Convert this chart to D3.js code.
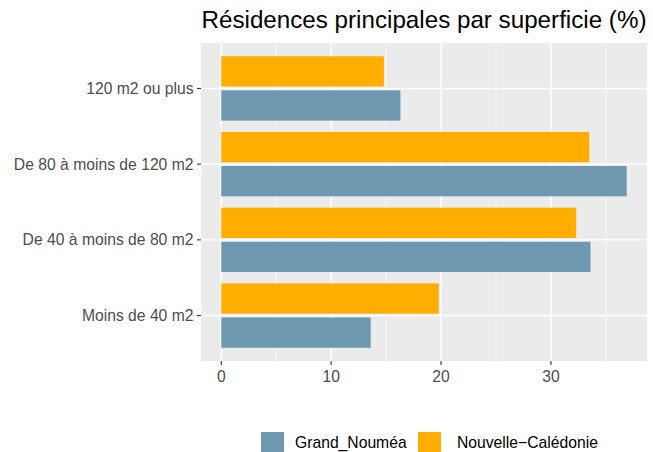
<!DOCTYPE html>
<html><head><meta charset="utf-8">
<script src="https://cdn.jsdelivr.net/npm/d3@7"></script>
<style>body{margin:0;background:#fff}text{font-family:"Liberation Sans",Arial,sans-serif}</style>
</head><body><svg id="c" width="653" height="452"></svg>
<script>
const categories = ["Moins de 40 m2","De 40 à moins de 80 m2","De 80 à moins de 120 m2","120 m2 ou plus"];
const seriesNames = ["Grand_Nouméa","Nouvelle−Calédonie"];
const grandNoumea = [13.6, 33.6, 36.9, 16.3];
const nouvelleCaledonie = [19.8, 32.3, 33.5, 14.8];
const xTicks = [0,10,20,30];
const xMinor = [5,15,25,35];
const colors = ["#6e98b0","#ffad00"];
const title = "Résidences principales par superficie (%)";

const svg = d3.select("#c");
const L = 201, R = 647, T = 43, B = 361;
const maxV = d3.max(grandNoumea.concat(nouvelleCaledonie));
const x = d3.scaleLinear().domain([-0.05*maxV, maxV*1.05]).range([L, R]);
const y = d3.scaleLinear().domain([0.4, categories.length + 0.6]).range([B, T]);
const fs = 15.7;

svg.append("rect").attr("x",L).attr("y",T).attr("width",R-L).attr("height",B-T).attr("fill","#ebebeb");
const g = svg.append("g");
g.selectAll(".minor").data(xMinor).enter().append("line")
  .attr("x1",d=>x(d)).attr("x2",d=>x(d)).attr("y1",T).attr("y2",B)
  .attr("stroke","#fff").attr("stroke-width",0.7);
g.selectAll(".major").data(xTicks).enter().append("line")
  .attr("x1",d=>x(d)).attr("x2",d=>x(d)).attr("y1",T).attr("y2",B)
  .attr("stroke","#fff").attr("stroke-width",1.4);
g.selectAll(".hmaj").data(categories).enter().append("line")
  .attr("x1",L).attr("x2",R).attr("y1",(d,i)=>y(i+1)).attr("y2",(d,i)=>y(i+1))
  .attr("stroke","#fff").attr("stroke-width",1.4);

const rows = [];
categories.forEach((c,i)=>{
  rows.push({i, s:0, v:grandNoumea[i]});
  rows.push({i, s:1, v:nouvelleCaledonie[i]});
});
const bw = 0.4;
svg.selectAll(".bar").data(rows).enter().append("rect")
  .attr("x", x(0))
  .attr("width", d=>x(d.v)-x(0))
  .attr("y", d=>{const c=(d.i+1)+(d.s===0?-0.225:0.225); return y(c+bw/2);})
  .attr("height", d=>y(0)-y(bw))
  .attr("fill", d=>colors[d.s]);

const ya = svg.append("g");
categories.forEach((c,i)=>{
  const yy = y(i+1);
  ya.append("line").attr("x1",L-4).attr("x2",L).attr("y1",yy).attr("y2",yy).attr("stroke","#333").attr("stroke-width",1.1);
  ya.append("text").attr("x",L-7.5).attr("y",yy).attr("dy","0.35em").attr("text-anchor","end")
    .attr("font-size",fs).attr("fill","#4d4d4d").text(c);
});
xTicks.forEach(t=>{
  svg.append("line").attr("x1",x(t)).attr("x2",x(t)).attr("y1",B).attr("y2",B+4).attr("stroke","#333").attr("stroke-width",1.1);
  svg.append("text").attr("x",x(t)).attr("y",B+20.5).attr("text-anchor","middle")
    .attr("font-size",fs).attr("fill","#4d4d4d").text(t);
});
svg.append("text").attr("x",(L+R)/2).attr("y",28).attr("text-anchor","middle")
  .attr("font-size",24.2).attr("fill","#000").text(title);
const keyX = [261, 418], textX = [295, 457];
seriesNames.forEach((s,i)=>{
  svg.append("rect").attr("x",keyX[i]).attr("y",432).attr("width",23).attr("height",20).attr("fill",colors[i]);
  svg.append("text").attr("x",textX[i]).attr("y",447.5).attr("font-size",fs).attr("fill","#000").text(s);
});
</script></body></html>
